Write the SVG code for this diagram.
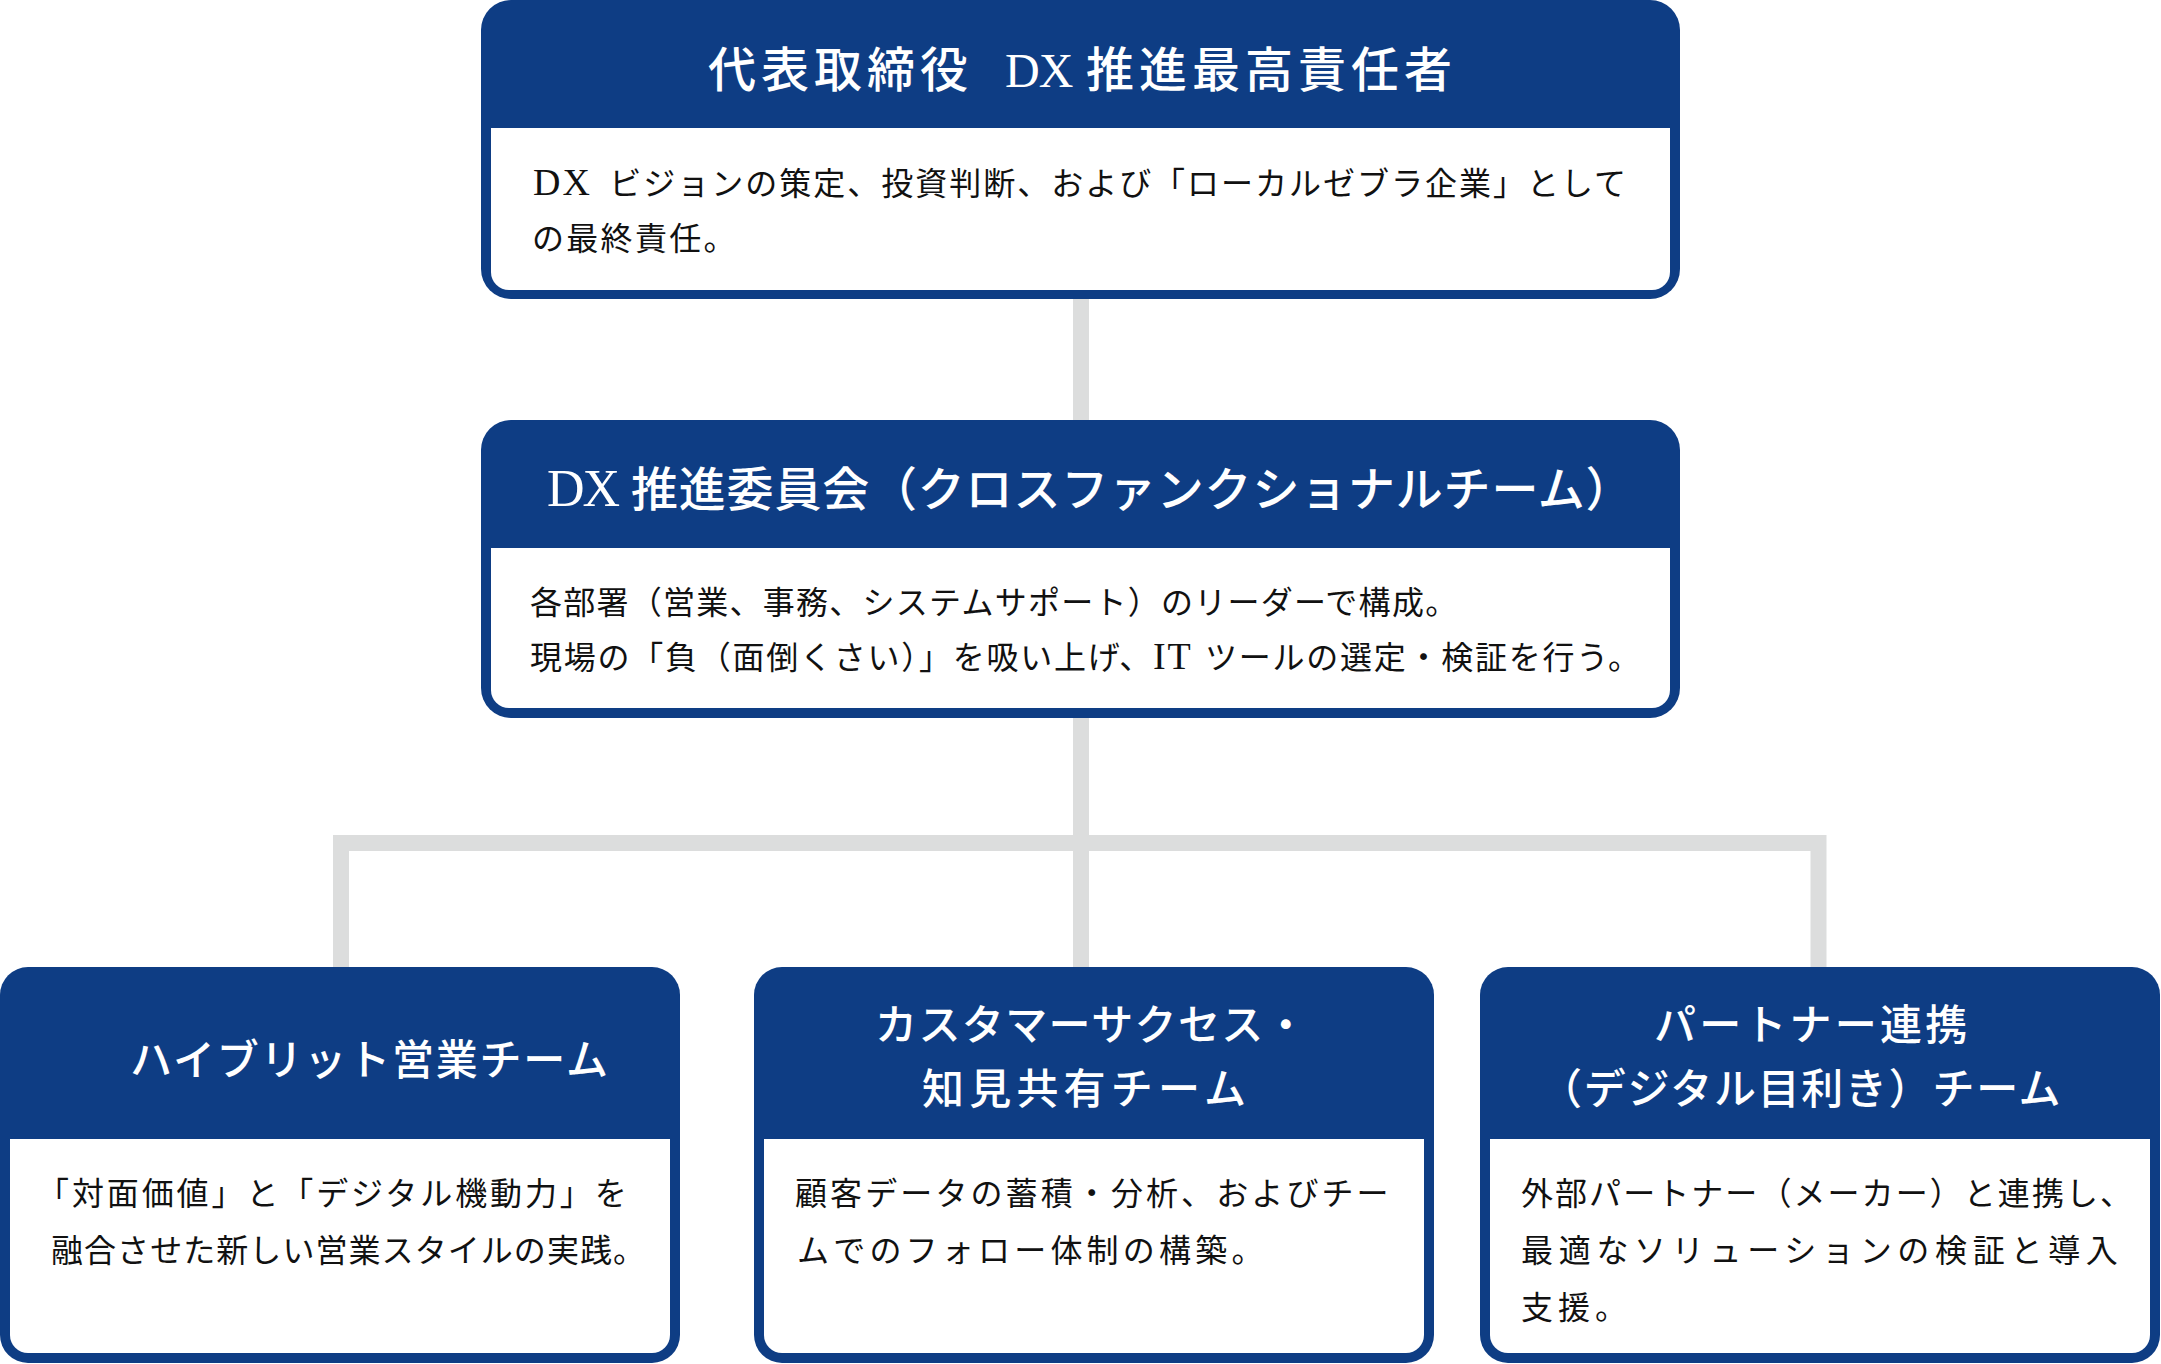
<svg xmlns="http://www.w3.org/2000/svg" width="2161" height="1364" viewBox="0 0 2161 1364">
<defs>
<style>
.box{fill:#0e3d84}
.inner{fill:#ffffff}
.conn{fill:none;stroke:#dcdddd;stroke-width:16;stroke-linejoin:miter;stroke-linecap:butt}
.t{font-family:"Noto Sans CJK JP","Noto Sans",sans-serif;fill:#ffffff;font-weight:500}
.b{font-family:"Noto Sans CJK JP","Noto Sans",sans-serif;fill:#111111;font-size:32px}
.lat{font-family:"Liberation Serif","Noto Sans CJK JP",serif}
</style>
</defs>
<rect width="2161" height="1364" fill="#ffffff"/>
<g id="connectors">
<path class="conn" d="M1081 299V420"/>
<path class="conn" d="M1081 718V967"/>
<path class="conn" d="M341 967V843H1818.5V967"/>
</g>
<g id="ceo">
<rect class="box" x="481" y="0" width="1199" height="299" rx="30"/>
<path class="inner" d="M491 128H1670V272A18 18 0 0 1 1652 290H509A18 18 0 0 1 491 272Z"/>
<text class="t" y="87" font-size="48"><tspan x="708" letter-spacing="5">代表取締役 </tspan><tspan x="1005" class="lat" font-size="48" letter-spacing="-1">DX</tspan><tspan x="1086" letter-spacing="5">推進最高責任者</tspan></text>
<text class="b" x="533" y="195" textLength="1093" lengthAdjust="spacing"><tspan class="lat" font-size="38">DX </tspan><tspan dx="6">ビジョンの策定、投資判断、および「ローカルゼブラ企業」として</tspan></text>
<text class="b" x="532" y="250" letter-spacing="2.3">の最終責任。</text>
</g>
<g id="committee">
<rect class="box" x="481" y="420" width="1199" height="298" rx="30"/>
<path class="inner" d="M491 548H1670V690A18 18 0 0 1 1652 708H509A18 18 0 0 1 491 690Z"/>
<text class="t" y="506" font-size="47"><tspan x="547" class="lat" font-size="52" letter-spacing="-2">DX</tspan><tspan x="631" letter-spacing="0.8">推進委員会（クロスファンクショナルチーム）</tspan></text>
<text class="b" x="530" y="614" letter-spacing="1.26">各部署（営業、事務、システムサポート）のリーダーで構成。</text>
<text class="b" x="530" y="669" textLength="1110" lengthAdjust="spacing">現場の「負（面倒くさい）」を吸い上げ、<tspan class="lat" font-size="38">IT </tspan><tspan dx="2">ツールの選定・検証を行う。</tspan></text>
</g>
<g id="team-hybrid">
<rect class="box" x="0" y="967" width="680" height="396" rx="28"/>
<path class="inner" d="M10 1139H670V1335A18 18 0 0 1 652 1353H28A18 18 0 0 1 10 1335Z"/>
<text class="t" x="130" y="1075" font-size="42" letter-spacing="1.8">ハイブリット営業チーム</text>
<text class="b" x="37" y="1205" letter-spacing="2.9">「対面価値」と「デジタル機動力」を</text>
<text class="b" x="51" y="1262" letter-spacing="1.06">融合させた新しい営業スタイルの実践。</text>
</g>
<g id="team-cs">
<rect class="box" x="754" y="967" width="680" height="396" rx="28"/>
<path class="inner" d="M764 1139H1424V1335A18 18 0 0 1 1406 1353H782A18 18 0 0 1 764 1335Z"/>
<text class="t" x="875" y="1040" font-size="42" letter-spacing="1.4">カスタマーサクセス・</text>
<text class="t" x="922" y="1104" font-size="42" letter-spacing="5.2">知見共有チーム</text>
<text class="b" x="795" y="1205" letter-spacing="3.1">顧客データの蓄積・分析、およびチー</text>
<text class="b" x="797" y="1262" letter-spacing="4.2">ムでのフォロー体制の構築。</text>
</g>
<g id="team-partner">
<rect class="box" x="1480" y="967" width="680" height="396" rx="28"/>
<path class="inner" d="M1490 1139H2150V1335A18 18 0 0 1 2132 1353H1508A18 18 0 0 1 1490 1335Z"/>
<text class="t" x="1654" y="1040" font-size="42" letter-spacing="3.2">パートナー連携</text>
<text class="t" x="1540" y="1104" font-size="42" letter-spacing="1.7">（デジタル目利き）チーム</text>
<text class="b" x="1521" y="1205" letter-spacing="2.06">外部パートナー（メーカー）と連携し、</text>
<text class="b" x="1521" y="1262" letter-spacing="5.7">最適なソリューションの検証と導入</text>
<text class="b" x="1521" y="1319" letter-spacing="5">支援。</text>
</g>
</svg>
